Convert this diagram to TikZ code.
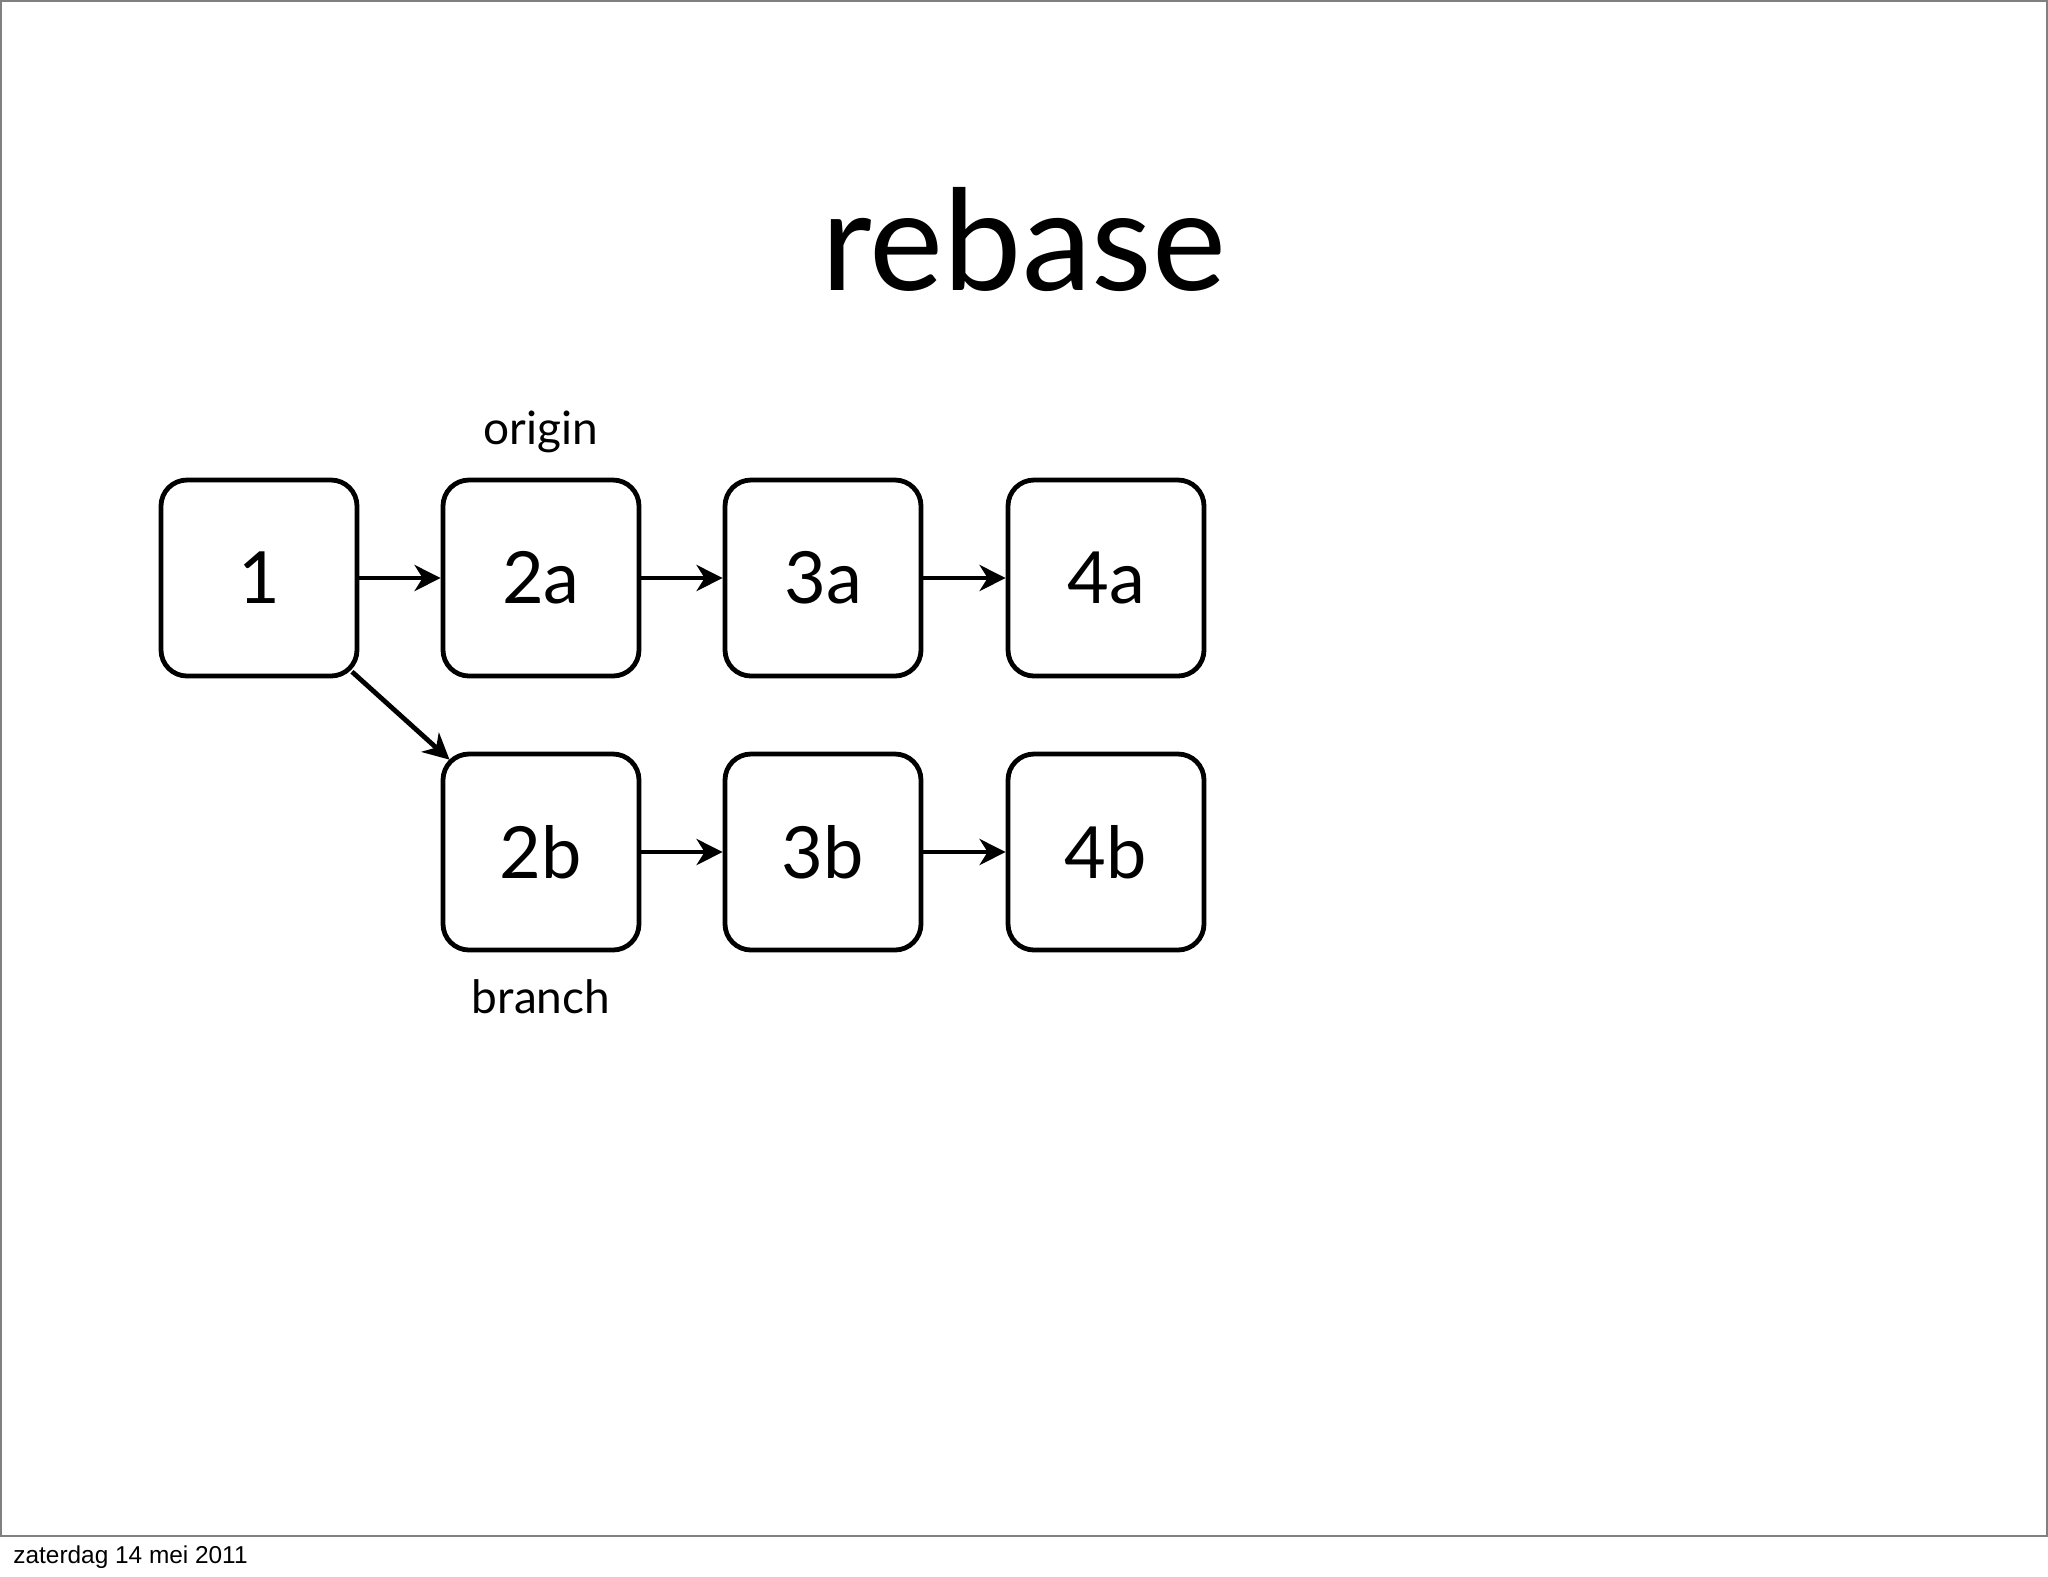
\documentclass[tikz,border=0pt]{standalone}
\usepackage{fontspec}
\setmainfont{Lato}
\newfontfamily\footfont{Liberation Sans}
\usetikzlibrary{arrows.meta}

\begin{document}
\begin{tikzpicture}[x=0.5pt,y=-0.5pt,
    commit/.style={draw, line width=2.4pt, rounded corners=13pt, minimum size=98pt,
      inner sep=0pt, font=\fontsize{36}{40}\selectfont},
    link/.style={line width=2.4pt, -{Stealth[length=13pt,width=13pt,inset=4pt]}},
    tag/.style={anchor=base, inner sep=0pt, font=\fontsize{23}{28}\selectfont}]
                \useasboundingbox (0,0) rectangle (2048,1576);

                % Slide frame
                \draw[gray, line width=0.75pt] (0.75,0.75) rectangle (2047,1536);

                % Title
                \node[anchor=base, inner sep=0pt, font=\fontsize{70}{76}\selectfont] (title) at (1024,290) {rebase};

                % Origin commits
                \node[commit] (c1) at (259,578) {1};
                \node[commit] (c2a) at (541,578) {2a};
                \node[commit] (c3a) at (823,578) {3a};
                \node[commit] (c4a) at (1106,578) {4a};

                % Branch commits
                \node[commit] (c2b) at (541,852) {2b};
                \node[commit] (c3b) at (823,852) {3b};
                \node[commit] (c4b) at (1106,852) {4b};

                % Labels
                \node[tag] (origin) at (541,444) {origin};
                \node[tag] (branch) at (541,1013) {branch};

                % History
                \draw[link] (c1) -- (c2a);
                \draw[link] (c2a) -- (c3a);
                \draw[link] (c3a) -- (c4a);
                \draw[link, shorten <=-5pt, shorten >=-6pt] (c1.south east) -- (c2b.north west);
                \draw[link] (c2b) -- (c3b);
                \draw[link] (c3b) -- (c4b);

                % Footer
                \node[anchor=base west, inner sep=0pt, font=\footfont\fontsize{12.2}{14}\selectfont] (date) at (13,1563) {zaterdag 14 mei 2011};
            \end{tikzpicture}
\end{document}
